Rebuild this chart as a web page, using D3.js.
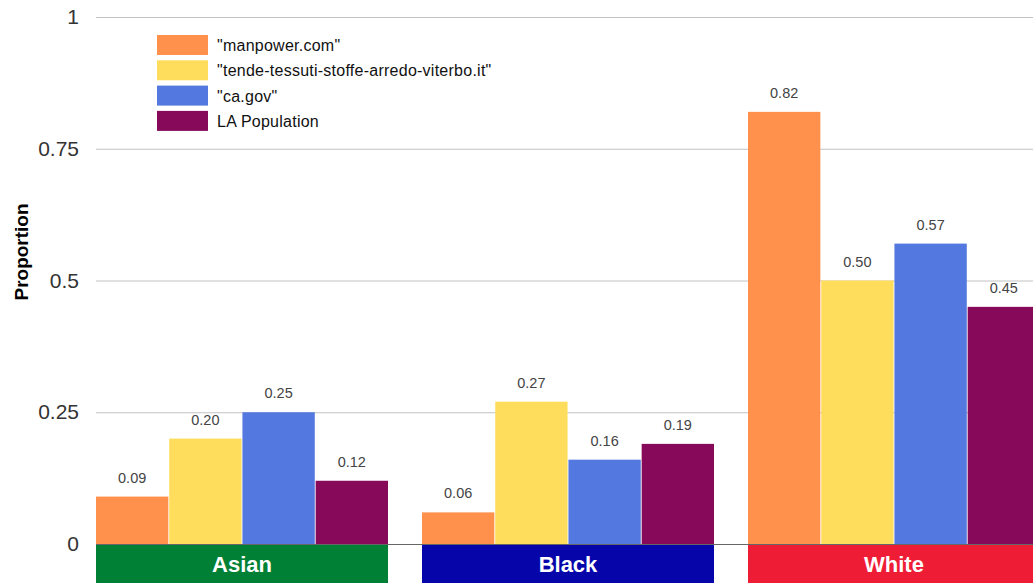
<!DOCTYPE html>
<html>
<head>
<meta charset="utf-8">
<script src="https://cdn.jsdelivr.net/npm/d3@7"></script>
<style>
  html, body { margin: 0; padding: 0; background: #fff; }
  svg { display: block; font-family: "Liberation Sans", Arial, Helvetica, sans-serif; }
</style>
</head>
<body>
<svg id="chart" width="1033" height="583"></svg>
<script>
// Groups along the x axis
const categories = ["Asian", "Black", "White"];
const categoryColors = ["#008035", "#0505AA", "#EE1C35"];

// Series (one bar per group each)
const seriesNames = ['"manpower.com"', '"tende-tessuti-stoffe-arredo-viterbo.it"', '"ca.gov"', "LA Population"];
const seriesColors = ["#FF914D", "#FFDD5C", "#5378E0", "#86095A"];

// Values per series, in category order
const manpower = [0.09, 0.06, 0.82];
const tende = [0.20, 0.27, 0.50];
const cagov = [0.25, 0.16, 0.57];
const laPopulation = [0.12, 0.19, 0.45];
const seriesValues = [manpower, tende, cagov, laPopulation];

// Y axis ticks
const yTicks = [0, 0.25, 0.5, 0.75, 1];
const yTickLabels = ["0", "0.25", "0.5", "0.75", "1"];

const svg = d3.select("#chart");
const W = 1033, H = 583;
const plotLeft = 96, plotRight = 1040;
const yTop = 17, yBottom = 544;

const y = d3.scaleLinear().domain([0, 1]).range([yBottom, yTop]);
const x0 = d3.scaleBand().domain(categories).range([plotLeft, plotRight])
  .paddingInner(0.1043).paddingOuter(0);
const x1 = d3.scaleBand().domain(d3.range(seriesNames.length))
  .range([0, x0.bandwidth()]).paddingInner(0.012);

// Gridlines
svg.append("g").selectAll("line")
  .data(yTicks.filter(t => t > 0))
  .join("line")
  .attr("x1", plotLeft).attr("x2", W)
  .attr("y1", d => y(d) + 0.5).attr("y2", d => y(d) + 0.5)
  .attr("stroke", "#c2c2c2").attr("stroke-width", 1);

// Y axis labels
const yAxis = d3.axisLeft(y).tickValues(yTicks)
  .tickFormat((d, i) => yTickLabels[i]).tickSize(0).tickPadding(0);
const yg = svg.append("g").attr("transform", `translate(79,0)`).call(yAxis);
yg.select(".domain").remove();
yg.selectAll("text")
  .attr("font-size", 21).attr("fill", "#333")
  .attr("font-family", '"Liberation Sans", Arial, sans-serif');

// Y axis title
svg.append("text")
  .attr("transform", `translate(28,252) rotate(-90)`)
  .attr("text-anchor", "middle")
  .attr("font-size", 19).attr("font-weight", "bold").attr("fill", "#000")
  .text("Proportion");

// Bars
const groups = svg.append("g").selectAll("g")
  .data(categories)
  .join("g")
  .attr("transform", d => `translate(${x0(d)},0)`);

groups.each(function(cat, ci) {
  const g = d3.select(this);
  const vals = seriesValues.map((s, si) => ({ si, v: s[ci] }));
  g.selectAll("rect")
    .data(vals)
    .join("rect")
    .attr("x", d => x1(d.si))
    .attr("y", d => y(d.v))
    .attr("width", x1.bandwidth())
    .attr("height", d => yBottom - y(d.v))
    .attr("fill", d => seriesColors[d.si]);
  g.selectAll("text")
    .data(vals)
    .join("text")
    .attr("x", d => x1(d.si) + x1.bandwidth() / 2)
    .attr("y", d => y(d.v) - 14)
    .attr("text-anchor", "middle")
    .attr("font-size", 14.5).attr("fill", "#444")
    .text(d => d.v.toFixed(2));
});

// Zero baseline
svg.append("line")
  .attr("x1", plotLeft).attr("x2", W)
  .attr("y1", yBottom + 0.5).attr("y2", yBottom + 0.5)
  .attr("stroke", "#666").attr("stroke-width", 1);

// Category label bands
const bands = svg.append("g").selectAll("g")
  .data(categories)
  .join("g")
  .attr("transform", d => `translate(${x0(d)},${yBottom + 1})`);
bands.append("rect")
  .attr("width", x0.bandwidth())
  .attr("height", H - yBottom)
  .attr("fill", (d, i) => categoryColors[i]);
bands.append("text")
  .attr("x", x0.bandwidth() / 2)
  .attr("y", 27)
  .attr("text-anchor", "middle")
  .attr("font-size", 22).attr("font-weight", "bold").attr("fill", "#fff")
  .text(d => d);

// Legend
const legend = svg.append("g").attr("transform", "translate(157,35)");
const li = legend.selectAll("g")
  .data(seriesNames)
  .join("g")
  .attr("transform", (d, i) => `translate(0,${i * 25.3})`);
li.append("rect")
  .attr("width", 51).attr("height", 20)
  .attr("fill", (d, i) => seriesColors[i]);
li.append("text")
  .attr("x", 60).attr("y", 16)
  .attr("font-size", 16).attr("letter-spacing", 0.25).attr("fill", "#111")
  .text(d => d);
</script>
</body>
</html>
